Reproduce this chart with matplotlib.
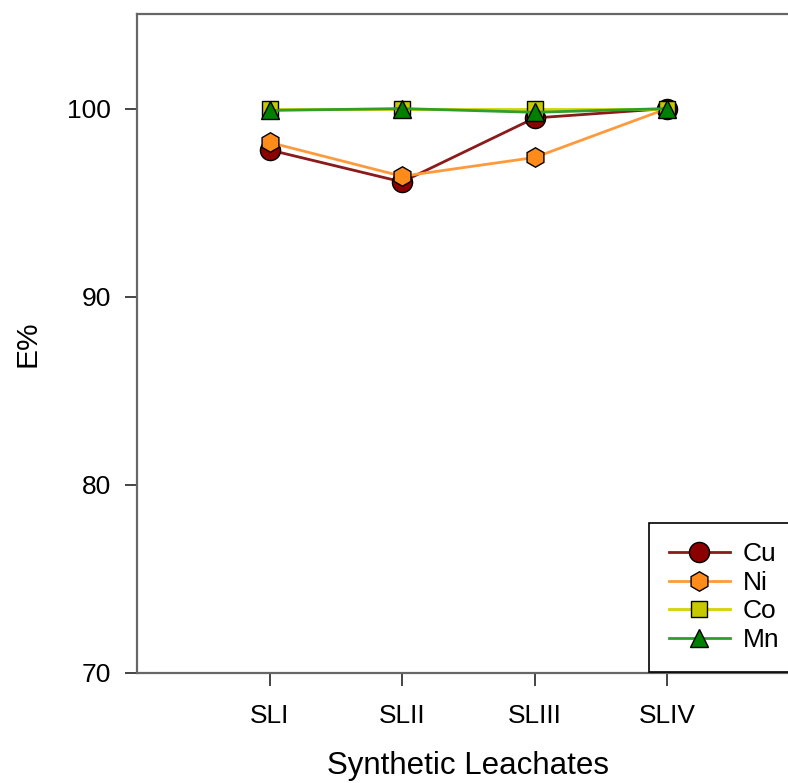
import matplotlib.pyplot as plt

plt.rcParams['font.family'] = ['Liberation Sans', 'DejaVu Sans']

leachates = ['SLI', 'SLII', 'SLIII', 'SLIV']
cu = [97.8, 96.1, 99.5, 100.0]
ni = [98.2, 96.4, 97.4, 100.0]
co = [100.0, 100.0, 100.0, 100.0]
mn = [99.9, 100.0, 99.8, 100.0]

x = [1, 2, 3, 4]

fig = plt.figure(figsize=(7.88, 7.83), dpi=100)
ax = fig.add_axes([0.1739, 0.1405, 0.841, 0.841])

ax.plot(x, cu, color='#8b1a1a', lw=2, marker='o', ms=14.5, mfc='#8b0000', mec='black', mew=1, label='Cu', zorder=3)
ax.plot(x, ni, color='#ff9a3c', lw=2, marker='h', ms=14, mfc='#ff8c1a', mec='black', mew=1, label='Ni', zorder=4)
ax.plot(x, co, color='#d4d400', lw=2, marker='s', ms=12, mfc='#c8c800', mec='black', mew=1, label='Co', zorder=5)
ax.plot(x, mn, color='#2e9e2e', lw=2, marker='^', ms=13.5, mfc='#008000', mec='black', mew=1, label='Mn', zorder=6)

ax.set_xlim(0, 5)
ax.set_ylim(70, 105)
ax.set_xticks(x)
ax.set_xticklabels(leachates)
ax.set_yticks([70, 80, 90, 100])

for s in ax.spines.values():
    s.set_color('#666666')
    s.set_linewidth(1.6)
ax.tick_params(direction='out', length=9, width=1.4, color='#444444', labelsize=19)
ax.tick_params(axis='x', pad=13)
ax.tick_params(axis='y', pad=10)

ax.set_xlabel('Synthetic Leachates', fontsize=22.5, labelpad=17)
ax.set_ylabel('E%', fontsize=21.5, labelpad=18)

leg = ax.legend(loc='lower left', bbox_to_anchor=(0.773, 0.002), borderaxespad=0,
                fontsize=19, handlelength=2.3, handletextpad=0.5, labelspacing=0.17,
                fancybox=False, framealpha=1, edgecolor='black', borderpad=0.75)
leg.get_frame().set_linewidth(1.2)

fig.savefig('out.png', dpi=100)
